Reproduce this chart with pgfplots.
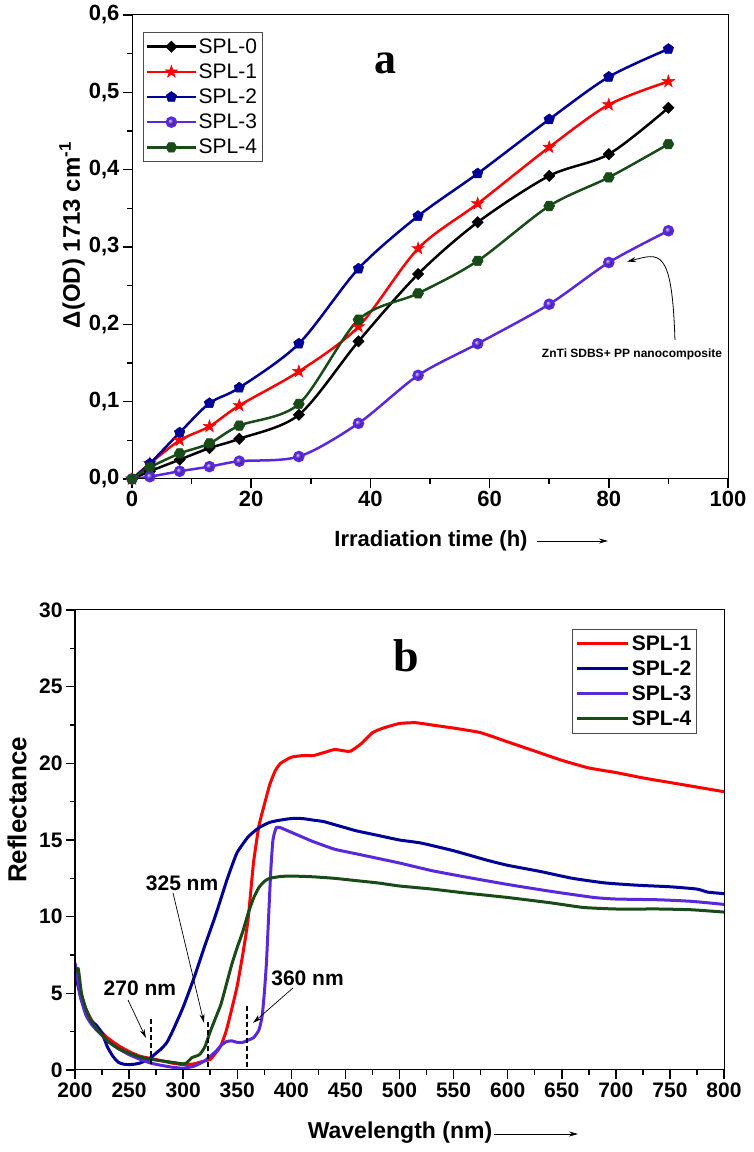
\documentclass[border=0pt]{standalone}
\usepackage{fontspec}
\setmainfont{Liberation Sans}
\newfontfamily\timesfont{Liberation Serif}
\usepackage{pgfplots}
\pgfplotsset{compat=1.18}
\usetikzlibrary{arrows.meta}
\definecolor{spl1}{RGB}{255,0,0}
\definecolor{spl2}{RGB}{0,0,150}
\definecolor{spl3}{RGB}{90,40,220}
\definecolor{spl4}{RGB}{25,75,25}
\pgfdeclareplotmark{fstar}{%
 \pgfpathmoveto{\pgfqpointpolar{90}{1.3\pgfplotmarksize}}%
 \pgfpathlineto{\pgfqpointpolar{126}{0.5\pgfplotmarksize}}%
 \pgfpathlineto{\pgfqpointpolar{162}{1.3\pgfplotmarksize}}%
 \pgfpathlineto{\pgfqpointpolar{198}{0.5\pgfplotmarksize}}%
 \pgfpathlineto{\pgfqpointpolar{234}{1.3\pgfplotmarksize}}%
 \pgfpathlineto{\pgfqpointpolar{270}{0.5\pgfplotmarksize}}%
 \pgfpathlineto{\pgfqpointpolar{306}{1.3\pgfplotmarksize}}%
 \pgfpathlineto{\pgfqpointpolar{342}{0.5\pgfplotmarksize}}%
 \pgfpathlineto{\pgfqpointpolar{18}{1.3\pgfplotmarksize}}%
 \pgfpathlineto{\pgfqpointpolar{54}{0.5\pgfplotmarksize}}%
 \pgfpathclose
 \pgfusepathqfillstroke}
\pgfdeclareplotmark{fhex}{%
 \pgfpathmoveto{\pgfqpointpolar{0}{\pgfplotmarksize}}%
 \pgfpathlineto{\pgfqpointpolar{60}{\pgfplotmarksize}}%
 \pgfpathlineto{\pgfqpointpolar{120}{\pgfplotmarksize}}%
 \pgfpathlineto{\pgfqpointpolar{180}{\pgfplotmarksize}}%
 \pgfpathlineto{\pgfqpointpolar{240}{\pgfplotmarksize}}%
 \pgfpathlineto{\pgfqpointpolar{300}{\pgfplotmarksize}}%
 \pgfpathclose
 \pgfusepathqfillstroke}
\pgfplotsset{
  common/.style={
    scale only axis,
    tick align=outside, tick pos=left,
    major tick length=9pt, minor tick length=5pt,
    every tick/.style={black, line width=1.5pt},
    axis line style={line width=1pt},
    minor x tick num=1, minor y tick num=1,
    /pgf/number format/assume math mode=true,
    clip=true,
  }
}
\begin{document}
\begin{tikzpicture}[x=1pt,y=1pt]
\useasboundingbox (0,0) rectangle (753,1152);
% ---------------- panel a
\begin{axis}[common,
  at={(132pt,673pt)}, anchor=south west,
  width=596pt, height=464pt,
  xmin=0, xmax=100, ymin=0, ymax=0.6,
  xtick={0,20,40,60,80,100},
  ytick={0,0.1,0.2,0.3,0.4,0.5,0.6},
  yticklabel style={/pgf/number format/.cd, use comma, fixed, fixed zerofill, precision=1},
  tick label style={font=\fontsize{22}{22}\selectfont\bfseries},
  legend style={at={(0.018,0.963)}, anchor=north west, draw=black!70, line width=0.8pt,
    font=\fontsize{21}{24}\selectfont, row sep=5pt, inner xsep=3pt, inner ysep=4pt,
    cells={anchor=west}},
  legend image code/.code={\draw[mark repeat=2,mark phase=2,#1] plot coordinates {(0pt,0pt) (24pt,0pt) (48pt,0pt)};},
]
\addplot[black, line width=2.5pt, smooth, tension=0.5, mark=square*, mark size=4pt, mark options={rotate=45, solid, line width=0.5pt}]
 coordinates {(0,0) (3,0.010) (8,0.025) (13,0.040) (18,0.052) (28,0.083) (38,0.178) (48,0.265) (58,0.332) (70,0.392) (80,0.420) (90,0.480)};
\addlegendentry{SPL-0}
\addplot[spl1, line width=2.5pt, smooth, tension=0.5, mark=fstar, mark size=5pt, mark options={solid, line width=0.5pt}]
 coordinates {(0,0) (3,0.020) (8,0.050) (13,0.068) (18,0.095) (28,0.139) (38,0.197) (48,0.298) (58,0.356) (70,0.429) (80,0.484) (90,0.514)};
\addlegendentry{SPL-1}
\addplot[spl2, line width=2.5pt, smooth, tension=0.5, mark=pentagon*, mark size=5.5pt, mark options={solid, line width=0.5pt}]
 coordinates {(0,0) (3,0.020) (8,0.060) (13,0.098) (18,0.118) (28,0.175) (38,0.272) (48,0.340) (58,0.395) (70,0.465) (80,0.520) (90,0.556)};
\addlegendentry{SPL-2}
\addplot[spl3, line width=2.5pt, smooth, tension=0.5, mark=ball, mark size=4.5pt, mark options={ball color=spl3}]
 coordinates {(0,0) (3,0.003) (8,0.010) (13,0.016) (18,0.023) (28,0.029) (38,0.072) (48,0.134) (58,0.175) (70,0.226) (80,0.280) (90,0.321)};
\addlegendentry{SPL-3}
\addplot[spl4, line width=2.5pt, smooth, tension=0.5, mark=fhex, mark size=5.5pt, mark options={solid, line width=0.5pt}]
 coordinates {(0,0) (3,0.015) (8,0.033) (13,0.046) (18,0.069) (28,0.097) (38,0.206) (48,0.240) (58,0.282) (70,0.353) (80,0.390) (90,0.433)};
\addlegendentry{SPL-4}
\draw[line width=2pt] (rel axis cs:0,1) -- (rel axis cs:0,0) -- (rel axis cs:1,0);
\node[font=\timesfont\bfseries\fontsize{44}{44}\selectfont] at (axis cs:42.45,0.537) {a};
\node[font=\bfseries\fontsize{12}{12}\selectfont] at (axis cs:83.9,0.1616) {ZnTi SDBS+ PP nanocomposite};
\draw[line width=0.8pt, -{Stealth[length=9pt,width=5pt]}] (axis cs:91.1,0.18) .. controls (axis cs:90.6,0.30) and (axis cs:88.5,0.292) .. (axis cs:83.05,0.281);
\end{axis}
\node[rotate=90, font=\bfseries\fontsize{24}{24}\selectfont] at (72,917) {Δ(OD) 1713 cm\textsuperscript{-1}};
\node[font=\bfseries\fontsize{22}{22}\selectfont] at (431,611) {Irradiation time (h)};
\draw[line width=0.8pt, -{Stealth[length=9pt,width=5pt]}] (537,611) -- (608,611);
% ---------------- panel b
\begin{axis}[common,
  at={(75pt,82pt)}, anchor=south west,
  width=649pt, height=460pt,
  xmin=200, xmax=800, ymin=0, ymax=30,
  xtick={200,250,...,800},
  ytick={0,5,...,30},
  tick label style={font=\fontsize{21}{21}\selectfont\bfseries},
  legend style={at={(0.958,0.9587)}, anchor=north east, draw=black!70, line width=0.8pt,
    font=\bfseries\fontsize{21}{26}\selectfont, row sep=5pt, inner xsep=3pt, inner ysep=4pt,
    cells={anchor=west}},
  legend image code/.code={\draw[#1] (0pt,0pt) -- (51pt,0pt);},
]
\addplot[spl1, line width=3pt, smooth, tension=0.3] coordinates {
(200,6.2) (205,5.0) (210,4.0) (215,3.3) (220,2.8) (230,2.1) (240,1.6) (250,1.2) (260,0.9) (270,0.75) (280,0.6) (290,0.45) (300,0.35) (310,0.4) (320,0.6) (325,0.7) (330,1.1) (335,1.6) (340,2.6) (345,4.0) (350,5.5) (355,7.5) (360,9.8) (365,13.5) (370,15.9) (375,17.3) (380,18.6) (385,19.5) (390,20.0) (400,20.4) (410,20.5) (420,20.5) (430,20.7) (440,20.9) (450,20.8) (455,20.8) (465,21.3) (475,22.0) (485,22.3) (500,22.6) (515,22.65) (530,22.5) (550,22.3) (575,22.0) (600,21.4) (625,20.8) (650,20.2) (675,19.7) (700,19.4) (725,19.05) (750,18.75) (775,18.45) (800,18.15)};
\addlegendentry{SPL-1}
\addplot[spl2, line width=3pt, smooth, tension=0.3] coordinates {
(200,6.5) (205,4.8) (210,3.8) (215,3.2) (220,2.9) (225,2.4) (230,1.5) (235,0.9) (240,0.5) (245,0.38) (250,0.35) (255,0.38) (260,0.45) (265,0.6) (270,0.8) (275,1.1) (280,1.4) (285,1.8) (290,2.5) (300,4.1) (310,6.0) (320,8.1) (330,10.1) (340,12.3) (345,13.3) (350,14.2) (360,15.2) (370,15.8) (380,16.15) (390,16.3) (400,16.4) (410,16.4) (420,16.3) (430,16.2) (440,16.0) (450,15.8) (460,15.6) (480,15.3) (500,15.0) (520,14.8) (550,14.3) (580,13.7) (600,13.35) (630,12.95) (660,12.5) (690,12.2) (720,12.05) (750,11.95) (775,11.8) (785,11.6) (800,11.5)};
\addlegendentry{SPL-2}
\addplot[spl3, line width=3pt, smooth, tension=0.3] coordinates {
(200,7.0) (205,4.8) (210,3.6) (215,3.0) (220,2.6) (230,1.9) (240,1.4) (250,1.0) (260,0.7) (270,0.45) (280,0.3) (290,0.18) (300,0.12) (310,0.25) (320,0.6) (330,1.2) (335,1.6) (340,1.85) (345,1.9) (350,1.8) (355,1.8) (360,1.95) (365,2.1) (370,2.6) (373,3.5) (375,5.0) (377,7.0) (379,10.0) (381,13.0) (383,15.0) (386,15.8) (390,15.8) (400,15.5) (410,15.2) (420,14.9) (440,14.4) (460,14.1) (480,13.8) (500,13.5) (530,13.0) (560,12.6) (600,12.1) (640,11.65) (680,11.25) (700,11.15) (740,11.1) (770,11.0) (800,10.8)};
\addlegendentry{SPL-3}
\addplot[spl4, line width=3pt, smooth, tension=0.3] coordinates {
(200,6.4) (203,6.6) (206,5.0) (210,4.0) (215,3.2) (220,2.7) (230,1.9) (240,1.4) (250,1.1) (260,0.85) (270,0.7) (280,0.6) (290,0.5) (300,0.4) (303,0.45) (308,0.8) (315,1.0) (320,1.5) (325,2.5) (330,3.4) (335,4.3) (340,5.6) (345,6.9) (350,8.0) (355,9.0) (360,10.2) (365,11.2) (370,11.9) (375,12.3) (380,12.5) (390,12.62) (400,12.65) (420,12.6) (440,12.5) (460,12.35) (480,12.2) (500,12.0) (530,11.8) (560,11.55) (600,11.25) (640,10.9) (670,10.6) (700,10.5) (740,10.5) (770,10.45) (800,10.3)};
\addlegendentry{SPL-4}
\draw[line width=2pt] (rel axis cs:0,1) -- (rel axis cs:0,0) -- (rel axis cs:1,0);
\node[font=\timesfont\bfseries\fontsize{46}{46}\selectfont] at (axis cs:506,27.0) {b};
\draw[line width=2pt, dash pattern=on 5pt off 3pt] (axis cs:270.3,3.3) -- (axis cs:270.3,0.2);
\draw[line width=2pt, dash pattern=on 5pt off 3pt] (axis cs:323,3.15) -- (axis cs:323,0);
\draw[line width=2pt, dash pattern=on 5pt off 3pt] (axis cs:359.3,4.2) -- (axis cs:359.3,0.2);
\draw[line width=0.7pt, -{Stealth[length=9pt,width=5pt]}] (axis cs:249,4.57) -- (axis cs:265.6,2.09);
\draw[line width=0.7pt, -{Stealth[length=9pt,width=5pt]}] (axis cs:290.6,11.55) -- (axis cs:319.3,3.07);
\draw[line width=0.7pt, -{Stealth[length=9pt,width=5pt]}] (axis cs:401.5,5.35) -- (axis cs:364.6,3.07);
\node[font=\bfseries\fontsize{21}{21}\selectfont] at (axis cs:260,5.35) {270 nm};
\node[font=\bfseries\fontsize{21}{21}\selectfont] at (axis cs:299,12.2) {325 nm};
\node[font=\bfseries\fontsize{21}{21}\selectfont] at (axis cs:415,6.0) {360 nm};
\end{axis}
\node[rotate=90, font=\bfseries\fontsize{26}{26}\selectfont] at (17,342) {Reflectance};
\node[font=\bfseries\fontsize{23}{23}\selectfont] at (400,19) {Wavelength (nm)};
\draw[line width=0.8pt, -{Stealth[length=9pt,width=5pt]}] (494,18) -- (578,18);
\end{tikzpicture}
\end{document}
